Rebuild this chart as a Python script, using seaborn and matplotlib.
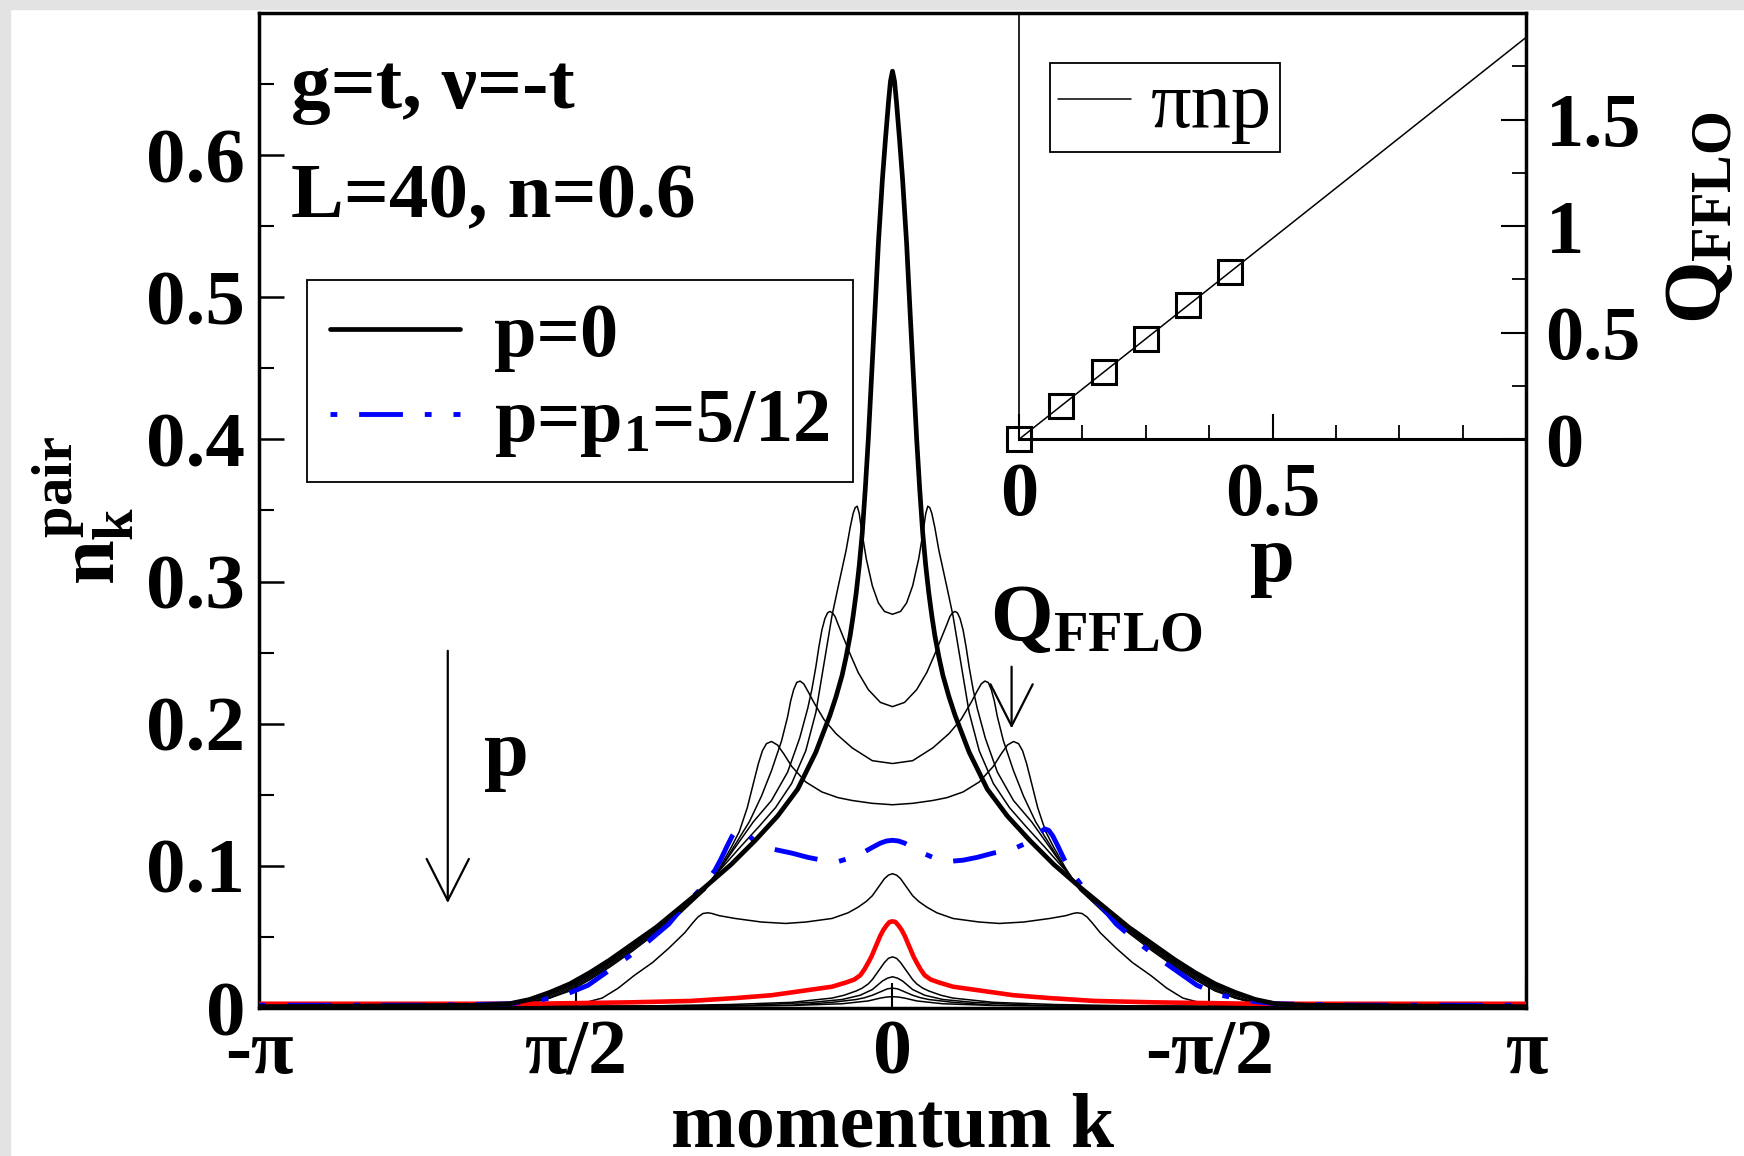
import numpy as np
import matplotlib
matplotlib.use("Agg")
import matplotlib.pyplot as plt
from matplotlib.patches import Rectangle
from matplotlib.font_manager import FontProperties
import seaborn as sns

PI = np.pi

# ---- pair momentum distribution n_k^pair, half curves (k >= 0), mirrored to k < 0 ----
k_p0 = [0, 0.01, 0.02, 0.035, 0.05, 0.07, 0.09, 0.105, 0.12, 0.135, 0.15, 0.165, 0.18, 0.195,
        0.21, 0.23, 0.25, 0.28, 0.31, 0.38, 0.47, 0.57, 0.68, 0.80, 0.93, 1.05, 1.17, 1.29,
        1.40, 1.50, 1.60, 1.70, 1.80, 1.90, 2.05, 2.5, PI]
n_p0 = [0.659, 0.652, 0.637, 0.611, 0.583, 0.538, 0.482, 0.441, 0.400, 0.365, 0.334, 0.311,
        0.292, 0.276, 0.262, 0.247, 0.234, 0.219, 0.206, 0.180, 0.154, 0.135, 0.118, 0.101,
        0.085, 0.071, 0.057, 0.045, 0.034, 0.025, 0.017, 0.011, 0.006, 0.003, 0.002, 0.0015,
        0.001]

k_p1 = [0, 0.04, 0.07, 0.10, 0.13, 0.145, 0.155, 0.165, 0.175, 0.185, 0.195, 0.21, 0.23,
        0.27, 0.30, 0.34, 0.38, 0.43, 0.50, 0.58, 0.66, 0.75, 0.85, 0.93, 1.05, 1.17, 1.29,
        1.40, 1.50, 1.60, 1.70, 1.80, 1.95, 2.4, PI]
n_p1 = [0.277, 0.279, 0.285, 0.297, 0.316, 0.329, 0.338, 0.348, 0.353, 0.352, 0.348, 0.338,
        0.322, 0.296, 0.276, 0.242, 0.208, 0.181, 0.158, 0.141, 0.128, 0.114, 0.098, 0.085,
        0.070, 0.056, 0.043, 0.032, 0.023, 0.015, 0.009, 0.005, 0.002, 0.0015, 0.001]

k_p2 = [0, 0.06, 0.12, 0.17, 0.21, 0.25, 0.27, 0.285, 0.298, 0.31, 0.322, 0.335, 0.35, 0.365,
        0.38, 0.40, 0.42, 0.46, 0.52, 0.60, 0.69, 0.77, 0.85, 0.93, 1.05, 1.17, 1.29, 1.40,
        1.50, 1.60, 1.70, 1.80, 1.95, 2.4, PI]
n_p2 = [0.212, 0.215, 0.224, 0.236, 0.249, 0.263, 0.270, 0.2755, 0.278, 0.279, 0.278, 0.274,
        0.266, 0.254, 0.240, 0.224, 0.211, 0.190, 0.166, 0.146, 0.131, 0.115, 0.099, 0.084,
        0.069, 0.055, 0.042, 0.031, 0.022, 0.014, 0.008, 0.004, 0.002, 0.0015, 0.001]

k_p3 = [0, 0.1, 0.2, 0.28, 0.34, 0.39, 0.42, 0.44, 0.458, 0.475, 0.49, 0.505, 0.52, 0.55,
        0.60, 0.65, 0.71, 0.78, 0.85, 0.93, 1.05, 1.17, 1.29, 1.40, 1.50, 1.60, 1.70, 1.80,
        1.95, 2.4, PI]
n_p3 = [0.172, 0.174, 0.183, 0.193, 0.203, 0.215, 0.223, 0.228, 0.230, 0.229, 0.224, 0.216,
        0.205, 0.188, 0.167, 0.149, 0.131, 0.115, 0.099, 0.083, 0.068, 0.054, 0.041, 0.030,
        0.021, 0.013, 0.007, 0.004, 0.002, 0.0015, 0.001]

k_p4 = [0, 0.1, 0.2, 0.27, 0.35, 0.43, 0.50, 0.54, 0.57, 0.60, 0.625, 0.645, 0.665, 0.69,
        0.72, 0.76, 0.80, 0.86, 0.93, 1.05, 1.17, 1.29, 1.40, 1.50, 1.60, 1.70, 1.80, 1.95,
        2.4, PI]
n_p4 = [0.143, 0.144, 0.146, 0.148, 0.152, 0.159, 0.170, 0.179, 0.185, 0.1875, 0.186, 0.181,
        0.172, 0.158, 0.141, 0.124, 0.113, 0.098, 0.083, 0.067, 0.053, 0.040, 0.029, 0.020,
        0.012, 0.007, 0.003, 0.002, 0.0015, 0.001]

# p = p1 = 5/12
k_p5 = [0, 0.03, 0.06, 0.10, 0.15, 0.20, 0.27, 0.35, 0.42, 0.50, 0.60, 0.68, 0.71, 0.735,
        0.755, 0.775, 0.795, 0.82, 0.85, 0.88, 0.95, 1.045, 1.11, 1.21, 1.31, 1.41, 1.51,
        1.63, 1.77, 1.90, 2.3, PI]
n_p5 = [0.118, 0.1175, 0.116, 0.113, 0.109, 0.106, 0.103, 0.104, 0.106, 0.109, 0.112, 0.117,
        0.121, 0.124, 0.126, 0.125, 0.121, 0.114, 0.105, 0.097, 0.084, 0.070, 0.059, 0.047,
        0.036, 0.026, 0.016, 0.009, 0.005, 0.003, 0.002, 0.002]

k_p6 = [0, 0.02, 0.04, 0.06, 0.08, 0.10, 0.13, 0.17, 0.22, 0.30, 0.43, 0.53, 0.65, 0.78, 0.86,
        0.895, 0.915, 0.94, 0.965, 0.99, 1.03, 1.11, 1.19, 1.28, 1.36, 1.44, 1.52, 1.6, 1.8,
        2.3, PI]
n_p6 = [0.0945, 0.0935, 0.091, 0.087, 0.083, 0.079, 0.075, 0.071, 0.067, 0.063, 0.0605,
        0.0595, 0.0605, 0.063, 0.065, 0.0665, 0.067, 0.0665, 0.064, 0.060, 0.053, 0.042,
        0.032, 0.023, 0.014, 0.007, 0.004, 0.002, 0.0015, 0.001, 0.001]

k_p7 = [0, 0.015, 0.03, 0.045, 0.06, 0.075, 0.09, 0.105, 0.12, 0.14, 0.16, 0.19, 0.23, 0.3,
        0.45, 0.6, 0.78, 1.0, 1.3, 1.8, 2.4, PI]
n_p7 = [0.061, 0.0605, 0.058, 0.055, 0.051, 0.046, 0.041, 0.036, 0.032, 0.027, 0.023, 0.020,
        0.018, 0.015, 0.012, 0.009, 0.007, 0.005, 0.004, 0.003, 0.003, 0.003]

k_p8 = [0, 0.02, 0.04, 0.06, 0.08, 0.10, 0.12, 0.15, 0.18, 0.24, 0.3, 0.5, 0.8, 1.2, 2.0, PI]
n_p8 = [0.036, 0.035, 0.032, 0.028, 0.024, 0.020, 0.017, 0.014, 0.012, 0.009, 0.007, 0.004,
        0.0025, 0.0015, 0.001, 0.001]
k_p9 = [0, 0.025, 0.05, 0.075, 0.1, 0.13, 0.16, 0.25, 0.4, 0.7, 1.2, 2.0, PI]
n_p9 = [0.022, 0.021, 0.019, 0.016, 0.013, 0.011, 0.009, 0.006, 0.004, 0.002, 0.0012, 0.001,
        0.001]
k_p10 = [0, 0.025, 0.05, 0.075, 0.1, 0.14, 0.18, 0.3, 0.5, 1.0, 2.0, PI]
n_p10 = [0.014, 0.0135, 0.012, 0.0105, 0.009, 0.0072, 0.006, 0.004, 0.002, 0.0012, 0.001,
         0.001]
k_p11 = [0, 0.03, 0.06, 0.09, 0.12, 0.25, 0.5, 1.0, 2.0, PI]
n_p11 = [0.008, 0.0077, 0.007, 0.006, 0.005, 0.003, 0.0018, 0.0012, 0.001, 0.001]

# ---- inset: FFLO momentum vs polarization ----
p_pts = [0, 0.083, 0.167, 0.25, 0.333, 0.417]
q_pts = [0, 0.157, 0.314, 0.471, 0.628, 0.785]
p_line = [0, 1.0]
q_line = [0, 1.885]

x_ticks = [-PI, -PI / 2, 0, PI / 2, PI]
x_ticklabels = ["-\u03c0", "\u03c0/2", "0", "-\u03c0/2", "\u03c0"]
y_ticks = [0, 0.1, 0.2, 0.3, 0.4, 0.5, 0.6]
y_ticklabels = ["0", "0.1", "0.2", "0.3", "0.4", "0.5", "0.6"]


def mirrored(k, v):
    k = np.asarray(k, float)
    v = np.asarray(v, float)
    return np.concatenate([-k[::-1], k[1:]]), np.concatenate([v[::-1], v[1:]])


sns.set_theme(style="ticks")
plt.rcParams.update({
    "font.family": ["Liberation Serif", "DejaVu Serif"],
    "font.weight": "bold",
    "axes.labelweight": "bold",
    "mathtext.fontset": "custom",
    "mathtext.rm": "Liberation Serif:bold",
    "mathtext.it": "Liberation Serif:bold",
    "mathtext.bf": "Liberation Serif:bold",
    "axes.edgecolor": "black",
    "axes.linewidth": 2.5,
    "text.color": "black",
    "axes.labelcolor": "black",
    "xtick.color": "black",
    "ytick.color": "black",
    "xtick.direction": "in",
    "ytick.direction": "in",
})

fig = plt.figure(figsize=(17.44, 11.56), dpi=100, facecolor="white")
fig.add_artist(Rectangle((0, 0), 10 / 1744, 1, transform=fig.transFigure,
                         color="#e3e3e3", zorder=-10))
fig.add_artist(Rectangle((0, 1 - 9 / 1156), 1, 9 / 1156, transform=fig.transFigure,
                         color="#e3e3e3", zorder=-10))

ax = fig.add_axes([0.1485, 0.128, 0.875 - 0.1485, 0.9888 - 0.128])
ax.set_facecolor("white")

thin_sets = [(k_p1, n_p1), (k_p2, n_p2), (k_p3, n_p3), (k_p4, n_p4), (k_p6, n_p6),
             (k_p8, n_p8), (k_p9, n_p9), (k_p10, n_p10), (k_p11, n_p11)]
for kk, nn in thin_sets:
    xs, ys = mirrored(kk, nn)
    sns.lineplot(x=xs, y=ys, ax=ax, color="black", linewidth=1.1, sort=False,
                 estimator=None, legend=False, zorder=2)

xs, ys = mirrored(k_p7, n_p7)
sns.lineplot(x=xs, y=ys, ax=ax, color="#ff0000", linewidth=3.3, sort=False,
             estimator=None, legend=False, zorder=3)

xs, ys = mirrored(k_p5, n_p5)
sns.lineplot(x=xs, y=ys, ax=ax, color="#0000ff", linewidth=3.5, sort=False,
             estimator=None, legend=False, zorder=4)
blue_line = ax.lines[-1]
blue_line.set_linestyle((13.5, (9, 4.5, 1.4, 4.5)))

xs, ys = mirrored(k_p0, n_p0)
sns.lineplot(x=xs, y=ys, ax=ax, color="black", linewidth=3.4, sort=False,
             estimator=None, legend=False, zorder=5)
black_line = ax.lines[-1]

ax.set_xlim(-PI, PI)
ax.set_ylim(0, 0.7)
ax.set_xticks(x_ticks)
ax.set_xticklabels(x_ticklabels)
ax.set_yticks(y_ticks)
ax.set_yticklabels(y_ticklabels)
ax.set_yticks(np.arange(0.05, 0.7, 0.1), minor=True)
ax.tick_params(axis="x", which="major", length=18, width=1.5, labelsize=56, pad=8)
ax.tick_params(axis="y", which="major", length=18, width=1.8, labelsize=57, pad=10)
ax.tick_params(axis="y", which="minor", length=11, width=1.5)

ax.set_xlabel("momentum k", fontsize=56)
ax.xaxis.set_label_coords(0.5, -0.085)
ax.set_ylabel(r"$n_k^{pair}$", fontsize=58)
ax.yaxis.set_label_coords(-0.097, 0.5)

leg = ax.legend([black_line, blue_line], ["p=0", r"p=p$_1$=5/12"],
                loc="upper left", bbox_to_anchor=(0.038, 0.732), fontsize=55,
                frameon=True, fancybox=False, edgecolor="black", framealpha=1,
                handlelength=1.7, handletextpad=0.45, borderpad=0.3,
                labelspacing=0.2, borderaxespad=0)
leg.get_frame().set_linewidth(1.3)

ax.text(0.0253, 0.9045, "g=t, \u03bd=-t", transform=ax.transAxes, fontsize=57,
        va="baseline", ha="left")
ax.text(0.0253, 0.795, "L=40, n=0.6", transform=ax.transAxes, fontsize=57,
        va="baseline", ha="left")
ax.text(0.577, 0.370, r"Q$_{FFLO}$", transform=ax.transAxes, fontsize=58,
        va="baseline", ha="left")
arrow_style = dict(arrowstyle="->,head_length=0.75,head_width=0.38", lw=1.6,
                   color="black", shrinkA=0, shrinkB=0, mutation_scale=40)
ax.annotate("", xy=(0.594, 0.281), xytext=(0.594, 0.343), xycoords="axes fraction",
            arrowprops=arrow_style)
ax.annotate("", xy=(0.149, 0.1055), xytext=(0.149, 0.359), xycoords="axes fraction",
            arrowprops=arrow_style)
ax.text(0.1776, 0.234, "p", transform=ax.transAxes, fontsize=58, va="baseline",
        ha="left")

# ---- inset ----
axin = fig.add_axes([0.5843, 0.620, 0.875 - 0.5843, 0.9888 - 0.620], facecolor="none")
sns.lineplot(x=p_line, y=q_line, ax=axin, color="black", linewidth=1.1,
             sort=False, estimator=None, legend=False)
pi_line = axin.lines[-1]
sns.lineplot(x=p_pts, y=q_pts, ax=axin, linestyle="", marker="s", markersize=17,
             markerfacecolor="none", markeredgecolor="black", markeredgewidth=2.2,
             color="black", sort=False, estimator=None, legend=False, clip_on=False,
             zorder=5)
axin.set_xlim(0, 1)
axin.set_ylim(0, 2.0)
axin.spines["top"].set_visible(False)
axin.spines["right"].set_visible(False)
axin.spines["left"].set_linewidth(1.2)
axin.spines["bottom"].set_linewidth(2.2)
axin.yaxis.tick_right()
axin.set_xticks([0, 0.5])
axin.set_xticklabels(["0", "0.5"])
axin.set_xticks(np.arange(0, 1.001, 0.125), minor=True)
axin.set_yticks([0, 0.5, 1, 1.5])
axin.set_yticklabels(["0", "0.5", "1", "1.5"])
axin.set_yticks(np.arange(0.25, 2.0, 0.5), minor=True)
axin.tick_params(axis="x", which="major", direction="in", length=18, width=1.5,
                 labelsize=55, pad=16)
axin.tick_params(axis="x", which="minor", direction="in", length=10, width=1.3)
axin.tick_params(axis="y", which="major", direction="in", length=18, width=1.5,
                 labelsize=55, pad=14, right=True, left=False)
axin.tick_params(axis="y", which="minor", direction="in", length=10, width=1.3,
                 right=True, left=False)
axin.set_xlabel("p", fontsize=58)
axin.xaxis.set_label_coords(0.5, -0.2)
axin.text(1.345, 0.52, r"$Q_{FFLO}$", transform=axin.transAxes, rotation=90,
          ha="center", va="center", fontsize=58)
ileg = axin.legend([pi_line], ["\u03c0np"], loc="upper left",
                   bbox_to_anchor=(0.061, 0.883),
                   prop=FontProperties(family="Liberation Serif", weight="normal", size=58),
                   frameon=True, fancybox=False, edgecolor="black", framealpha=1,
                   handlelength=0.9, handletextpad=0.25, borderpad=0.1, borderaxespad=0)
ileg.get_frame().set_linewidth(1.3)

fig.savefig("out.png", dpi=100, facecolor=fig.get_facecolor())
